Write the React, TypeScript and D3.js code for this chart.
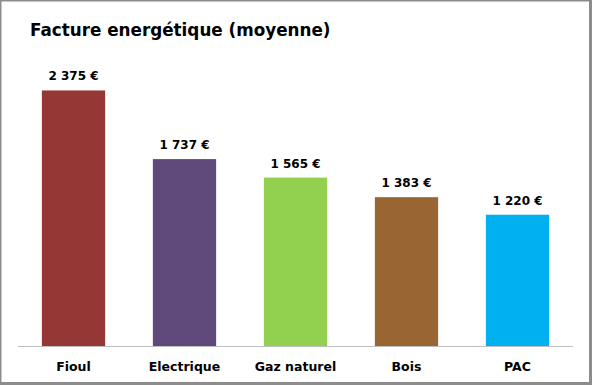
import React from 'react';
import * as d3 from 'd3';

const WIDTH = 592;
const HEIGHT = 385;
const MARGIN = { top: 77, bottom: 39, left: 18, right: 19 };
const CATEGORIES = ["Fioul", "Electrique", "Gaz naturel", "Bois", "PAC"];
const VALUES = [2375, 1737, 1565, 1383, 1220];
const COLORS = ["#953735", "#604a7b", "#92d050", "#996633", "#00b0f0"];
const FONT = "'DejaVu Sans', sans-serif";

const fmt = (v: number) => d3.format(",")(v).replace(",", " ") + " €";

export default function App() {
    const x = d3.scaleBand()
        .domain(CATEGORIES)
        .range([MARGIN.left, WIDTH - MARGIN.right])
        .paddingInner(0.43)
        .paddingOuter(0.215);

    const y = d3.scaleLinear()
        .domain([0, 2500])
        .range([HEIGHT - MARGIN.bottom, MARGIN.top]);

    const base = y(0);

    return (
        <svg width={WIDTH} height={HEIGHT} style={{ position: "absolute", left: 0, top: 0 }} fontFamily={FONT}>
            {/* frame with shadow on right / bottom */}
            <rect x={0} y={0} width={WIDTH} height={HEIGHT} fill="#8c8c8c" />
            <rect x={1.5} y={1.5} width={WIDTH - 4.5} height={HEIGHT - 4.5} fill="#ffffff" />

            <text x={30} y={36} fontSize={16.8} fontWeight="bold" fill="#000">
                Facture energétique (moyenne)
            </text>

            {VALUES.map((v, i) => {
                const c = CATEGORIES[i];
                const cx = (x(c) as number) + x.bandwidth() / 2;
                return (
                    <g key={c}>
                        <rect x={x(c)} y={y(v)} width={x.bandwidth()} height={base - y(v)} fill={COLORS[i]} />
                        <text x={cx} y={y(v) - 10} textAnchor="middle" fontSize={12} fontWeight="bold" fill="#000">
                            {fmt(v)}
                        </text>
                        <text x={cx} y={371} textAnchor="middle" fontSize={12.5} fontWeight="bold" fill="#000">
                            {c}
                        </text>
                    </g>
                );
            })}

            <line x1={MARGIN.left} x2={WIDTH - MARGIN.right} y1={base + 0.5} y2={base + 0.5} stroke="#bfbfbf" strokeWidth={1} />
        </svg>
    );
}
